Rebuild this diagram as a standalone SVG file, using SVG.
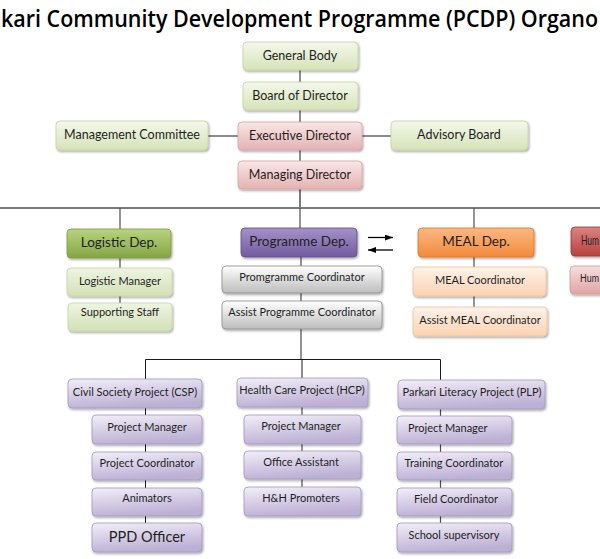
<svg xmlns="http://www.w3.org/2000/svg" width="600" height="559" viewBox="0 0 600 559">
<defs>
<linearGradient id="gGreenL" x1="0" y1="0" x2="0" y2="1"><stop offset="0" stop-color="#f4f8ec"/><stop offset="1" stop-color="#d5e3b8"/></linearGradient>
<linearGradient id="gPink" x1="0" y1="0" x2="0" y2="1"><stop offset="0" stop-color="#fae6e6"/><stop offset="1" stop-color="#e3b3b2"/></linearGradient>
<linearGradient id="gGreen" x1="0" y1="0" x2="0" y2="1"><stop offset="0" stop-color="#b9d37f"/><stop offset="1" stop-color="#84a544"/></linearGradient>
<linearGradient id="gGreenS" x1="0" y1="0" x2="0" y2="1"><stop offset="0" stop-color="#eef4e2"/><stop offset="1" stop-color="#d3e1b6"/></linearGradient>
<linearGradient id="gPurple" x1="0" y1="0" x2="0" y2="1"><stop offset="0" stop-color="#a591c9"/><stop offset="1" stop-color="#725c9f"/></linearGradient>
<linearGradient id="gGray" x1="0" y1="0" x2="0" y2="1"><stop offset="0" stop-color="#ffffff"/><stop offset="1" stop-color="#bdbdbd"/></linearGradient>
<linearGradient id="gOrange" x1="0" y1="0" x2="0" y2="1"><stop offset="0" stop-color="#fbb884"/><stop offset="1" stop-color="#f38a3a"/></linearGradient>
<linearGradient id="gPeach" x1="0" y1="0" x2="0" y2="1"><stop offset="0" stop-color="#fef3ea"/><stop offset="1" stop-color="#fbd2b2"/></linearGradient>
<linearGradient id="gRed" x1="0" y1="0" x2="0" y2="1"><stop offset="0" stop-color="#d98482"/><stop offset="1" stop-color="#b8423f"/></linearGradient>
<linearGradient id="gRose" x1="0" y1="0" x2="0" y2="1"><stop offset="0" stop-color="#f5e0df"/><stop offset="1" stop-color="#dfa3a1"/></linearGradient>
<linearGradient id="gLav" x1="0" y1="0" x2="0.3" y2="1"><stop offset="0" stop-color="#f2eff8"/><stop offset="1" stop-color="#bdb0d5"/></linearGradient>
<filter id="sh" x="-10%" y="-20%" width="125%" height="160%"><feDropShadow dx="1" dy="1.5" stdDeviation="0.9" flood-color="#000" flood-opacity="0.35"/></filter>
<marker id="ah" viewBox="0 0 8 6" refX="8" refY="3" markerWidth="8" markerHeight="6" markerUnits="userSpaceOnUse" orient="auto"><path d="M0,0 L8,3 L0,6 z" fill="#000"/></marker>
</defs>
<style>
rect{filter:url(#sh);stroke-width:0.8}
.gl{fill:url(#gGreenL);stroke:#c3d39f}
.pk{fill:url(#gPink);stroke:#d9a3a2}
.gr{fill:url(#gGreen);stroke:#7a9a3e}
.gs{fill:url(#gGreenS);stroke:#c6d7a4}
.pu{fill:url(#gPurple);stroke:#5f4b85}
.gy{fill:url(#gGray);stroke:#8c8c8c}
.or{fill:url(#gOrange);stroke:#e0721c}
.pe{fill:url(#gPeach);stroke:#f3c09a}
.rd{fill:url(#gRed);stroke:#9a3532}
.ro{fill:url(#gRose);stroke:#d39a98}
.lv{fill:url(#gLav);stroke:#a597c0}
text{font-family:Lato,"Liberation Sans",sans-serif;fill:#1f1f1f;text-anchor:middle}
.t12{font-size:12.5px}
.t13{font-size:13.5px}
.t11{font-size:11px}
.t14{font-size:14.5px}
.title{font-size:24px;font-weight:600;text-anchor:start;fill:#000;font-family:"Open Sans",Lato,sans-serif}
.ln{stroke:#1a1a1a;stroke-width:1;fill:none}
.lg{stroke:#7a7a7a;stroke-width:2;fill:none}
.ld{stroke:#4d4d4d;stroke-width:1.2;fill:none}
</style>
<text class="title" x="1" y="27" textLength="597" lengthAdjust="spacingAndGlyphs">kari Community Development Programme (PCDP) Organo</text>
<g id="connectors">
<line class="ln" x1="300" y1="70" x2="300" y2="82"/>
<line class="ln" x1="300" y1="110" x2="300" y2="122"/>
<line class="ln" x1="300" y1="150" x2="300" y2="161"/>
<line class="ln" x1="208" y1="136" x2="238" y2="136"/>
<line class="ln" x1="362" y1="136" x2="391" y2="136"/>
<line class="lg" x1="300" y1="189" x2="300" y2="208"/>
<line class="lg" x1="0" y1="208" x2="600" y2="208"/>
<line class="ld" x1="120" y1="208" x2="120" y2="229"/>
<line class="ld" x1="120" y1="258" x2="120" y2="268"/>
<line class="ld" x1="120" y1="296" x2="120" y2="303"/>
<line class="ld" x1="300" y1="208" x2="300" y2="228"/>
<line class="ld" x1="301" y1="257" x2="301" y2="266"/>
<line class="ld" x1="301" y1="293" x2="301" y2="301"/>
<line class="ld" x1="301" y1="329" x2="301" y2="359"/>
<line class="ld" x1="474" y1="208" x2="474" y2="228"/>
<line class="ld" x1="474" y1="257" x2="474" y2="267"/>
<line class="ld" x1="474" y1="296" x2="474" y2="307"/>
<line class="ln" x1="145.5" y1="359.5" x2="440.5" y2="359.5"/>
<line class="ln" x1="145.5" y1="359.5" x2="145.5" y2="379"/>
<line class="ln" x1="302" y1="359.5" x2="302" y2="378"/>
<line class="ln" x1="440.5" y1="359.5" x2="440.5" y2="380"/>
<line class="ln" x1="145.5" y1="408" x2="145.5" y2="415"/>
<line class="ln" x1="145.5" y1="444" x2="145.5" y2="452"/>
<line class="ln" x1="145.5" y1="480" x2="145.5" y2="488"/>
<line class="ln" x1="145.5" y1="516" x2="145.5" y2="523"/>
<line class="ld" x1="302" y1="407" x2="302" y2="415"/>
<line class="ld" x1="302" y1="444" x2="302" y2="451"/>
<line class="ld" x1="302" y1="479" x2="302" y2="487"/>
<line class="ld" x1="440.5" y1="409" x2="440.5" y2="416"/>
<line class="ld" x1="440.5" y1="444" x2="440.5" y2="452"/>
<line class="ld" x1="440.5" y1="480" x2="440.5" y2="488"/>
<line class="ld" x1="440.5" y1="516" x2="440.5" y2="523"/>
<line stroke="#000" stroke-width="1.3" x1="368" y1="237.5" x2="393" y2="237.5" marker-end="url(#ah)"/>
<line stroke="#000" stroke-width="1.3" x1="393" y1="250" x2="368" y2="250" marker-end="url(#ah)"/>
</g>
<g id="general-body"><rect class="gl" x="243" y="42" width="115" height="28" rx="4"/><text class="t12" x="300" y="60">General Body</text></g>
<g id="board-of-director"><rect class="gl" x="243" y="82" width="115" height="28" rx="4"/><text class="t12" x="300" y="100">Board of Director</text></g>
<g id="management-committee"><rect class="gl" x="56" y="121" width="152" height="29" rx="4"/><text class="t12" x="132" y="139">Management Committee</text></g>
<g id="executive-director"><rect class="pk" x="238" y="122" width="124" height="28" rx="4"/><text class="t12" x="300" y="140">Executive Director</text></g>
<g id="advisory-board"><rect class="gl" x="391" y="121" width="137" height="29" rx="4"/><text class="t12" x="459" y="139">Advisory Board</text></g>
<g id="managing-director"><rect class="pk" x="238" y="161" width="124" height="28" rx="4"/><text class="t12" x="300" y="179">Managing Director</text></g>
<g id="logistic-dep"><rect class="gr" x="67" y="229" width="104" height="29" rx="4"/><text class="t13" x="119" y="247">Logistic Dep.</text></g>
<g id="logistic-manager"><rect class="gs" x="67" y="268" width="105" height="28" rx="4"/><text class="t11" x="120" y="285">Logistic Manager</text></g>
<g id="supporting-staff"><rect class="gs" x="68" y="303" width="104" height="28" rx="4"/><text class="t11" x="120" y="316">Supporting Staff</text></g>
<g id="programme-dep"><rect class="pu" x="241" y="228" width="116" height="29" rx="4"/><text class="t13" x="299" y="246">Programme Dep.</text></g>
<g id="programme-coordinator"><rect class="gy" x="222" y="266" width="160" height="27" rx="4"/><text class="t11" x="302" y="281">Promgramme Coordinator</text></g>
<g id="assist-programme-coordinator"><rect class="gy" x="222" y="301" width="160" height="28" rx="4"/><text class="t11" x="302" y="316">Assist Programme Coordinator</text></g>
<g id="meal-dep"><rect class="or" x="418" y="228" width="116" height="29" rx="4"/><text class="t13" x="476" y="246">MEAL Dep.</text></g>
<g id="meal-coordinator"><rect class="pe" x="413" y="267" width="133" height="29" rx="4"/><text class="t11" x="480" y="284">MEAL Coordinator</text></g>
<g id="assist-meal-coordinator"><rect class="pe" x="413" y="307" width="134" height="29" rx="4"/><text class="t11" x="480" y="324">Assist MEAL Coordinator</text></g>
<g id="hr-dep"><rect class="rd" x="571" y="227" width="40" height="29" rx="4"/><text class="t13" x="581" y="245" style="text-anchor:start" textLength="18" lengthAdjust="spacingAndGlyphs">Hum</text></g>
<g id="hr-sub"><rect class="ro" x="570" y="266" width="40" height="28" rx="4"/><text class="t11" x="580" y="282" style="text-anchor:start" textLength="19" lengthAdjust="spacingAndGlyphs">Hum</text></g>
<g id="csp"><rect class="lv" x="68" y="379" width="134" height="29" rx="4"/><text class="t11" x="135" y="396">Civil Society Project (CSP)</text></g>
<g id="csp-project-manager"><rect class="lv" x="92" y="415" width="110" height="29" rx="4"/><text class="t11" x="147" y="431">Project  Manager</text></g>
<g id="csp-project-coordinator"><rect class="lv" x="92" y="452" width="110" height="28" rx="4"/><text class="t11" x="147" y="467">Project Coordinator</text></g>
<g id="csp-animators"><rect class="lv" x="92" y="488" width="110" height="28" rx="4"/><text class="t11" x="147" y="502">Animators</text></g>
<g id="csp-ppd-officer"><rect class="lv" x="92" y="523" width="110" height="29" rx="4"/><text class="t14" x="147" y="542">PPD Officer</text></g>
<g id="hcp"><rect class="lv" x="237" y="378" width="131" height="29" rx="4"/><text class="t11" x="302" y="394">Health Care Project (HCP)</text></g>
<g id="hcp-project-manager"><rect class="lv" x="244" y="415" width="117" height="29" rx="4"/><text class="t11" x="301" y="430">Project  Manager</text></g>
<g id="hcp-office-assistant"><rect class="lv" x="244" y="451" width="117" height="28" rx="4"/><text class="t11" x="301" y="466">Office  Assistant</text></g>
<g id="hcp-hh-promoters"><rect class="lv" x="244" y="487" width="117" height="29" rx="4"/><text class="t11" x="301" y="502">H&amp;H Promoters</text></g>
<g id="plp"><rect class="lv" x="398" y="380" width="147" height="29" rx="4"/><text class="t11" x="472" y="396">Parkari Literacy Project (PLP)</text></g>
<g id="plp-project-manager"><rect class="lv" x="397" y="416" width="115" height="28" rx="4"/><text class="t11" x="408" y="432" style="text-anchor:start">Project Manager</text></g>
<g id="plp-training-coordinator"><rect class="lv" x="397" y="452" width="115" height="28" rx="4"/><text class="t11" x="454" y="467">Training Coordinator</text></g>
<g id="plp-field-coordinator"><rect class="lv" x="397" y="488" width="115" height="28" rx="4"/><text class="t11" x="456" y="503">Field Coordinator</text></g>
<g id="plp-school-supervisory"><rect class="lv" x="397" y="523" width="115" height="29" rx="4"/><text class="t11" x="454" y="539">School supervisory</text></g>
</svg>
